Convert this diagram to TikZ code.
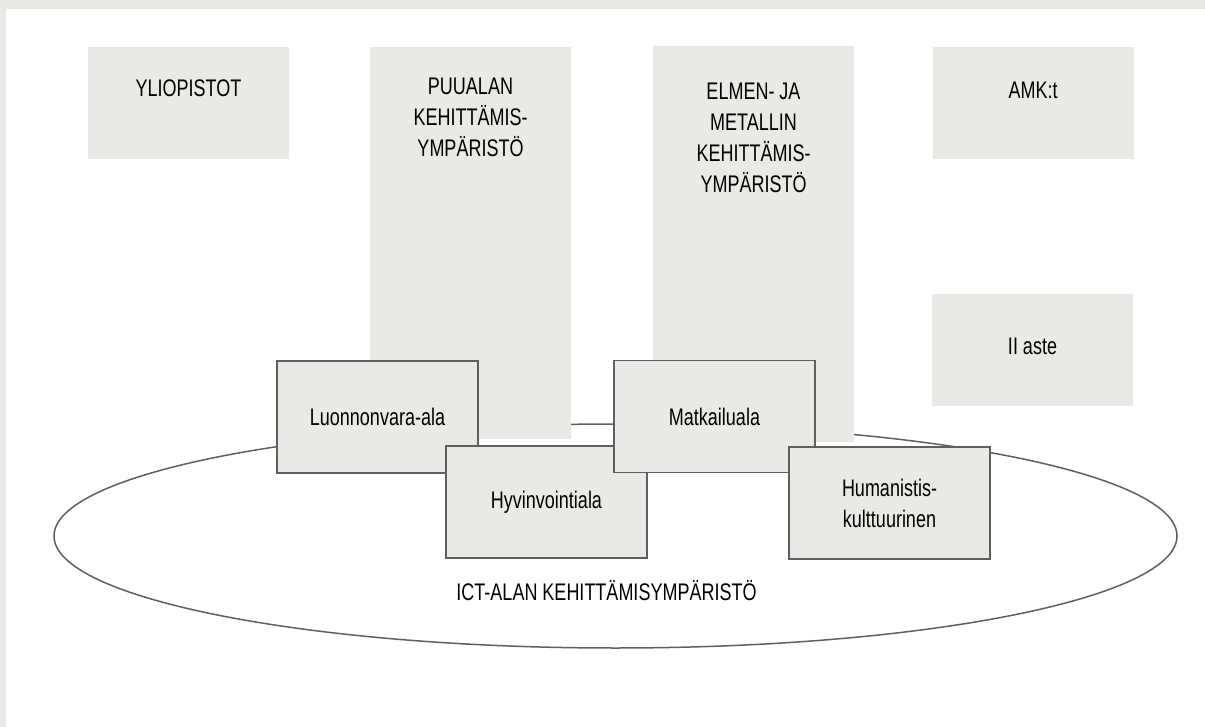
\documentclass[tikz,border=0pt]{standalone}
\usepackage{fontspec}
\setmainfont{Liberation Sans}[FakeStretch=0.75]
\usetikzlibrary{positioning,shapes.geometric}
\definecolor{boxgrey}{RGB}{235,233,230}
\definecolor{edgegrey}{RGB}{90,98,97}
\tikzset{grey node/.style={rectangle,fill=boxgrey,minimum width=201pt,minimum height=112pt,inner sep=0pt},
	field node/.style={grey node,draw=edgegrey,line width=1.6pt,font=\fontsize{24}{31}\selectfont,align=center},
	text node/.style={inner sep=0pt,font=\fontsize{24}{31}\selectfont,align=center},
}

\begin{document}
\begin{tikzpicture}[x=1pt,y=-1pt]
	
	%% frame
	\useasboundingbox (0,0) rectangle (1205,727);
	\fill[boxgrey] (0,0) rectangle (1205,727);
	\fill[white] (6,9) rectangle (1205,727);
	
	%% ICT ellipse
	\node[ellipse,draw=edgegrey,line width=1.5pt,minimum width=1123pt,minimum height=224pt,inner sep=0pt] (ict) at (615.5,536) {};
	
	%% environments
	\node[grey node,minimum height=392pt] (puu) at (470.5,243) {};
	\node[grey node,minimum height=396pt] (elmen) at (753.5,244) {};
	\node[grey node] (ylio) at (188.5,103) {};
	\node[grey node] (amk) at (1033,103) {};
	\node[grey node] (aste) at (1032.5,350) {};
	
	\node[text node] (puutext) [below = 31pt of puu.north] {PUUALAN\\KEHITTÄMIS-\\YMPÄRISTÖ};
	\node[text node] (elmentext) [below = 37pt of elmen.north] {ELMEN- JA\\METALLIN\\KEHITTÄMIS-\\YMPÄRISTÖ};
	\node[text node] (yliotext) [below = 33pt of ylio.north] {YLIOPISTOT};
	\node[text node] (amktext) [below = 35pt of amk.north] {AMK:t};
	\node[text node] (astetext) [below = 44pt of aste.north] {II aste};
	
	%% fields
	\node[field node] (luon) at (377.5,417) {Luonnonvara-ala};
	\node[field node] (hyv) at (546.5,502) {Hyvinvointiala};
	\node[field node] (matk) at (714.5,416.5) {Matkailuala};
	\node[field node] (hum) at (889.5,503) {Humanistis-\\kulttuurinen};
	
	\node[text node,anchor=base] (icttext) at ([xshift=-9pt,yshift=-64pt]ict.center) {ICT-ALAN KEHITTÄMISYMPÄRISTÖ};
	
\end{tikzpicture}
\end{document}
